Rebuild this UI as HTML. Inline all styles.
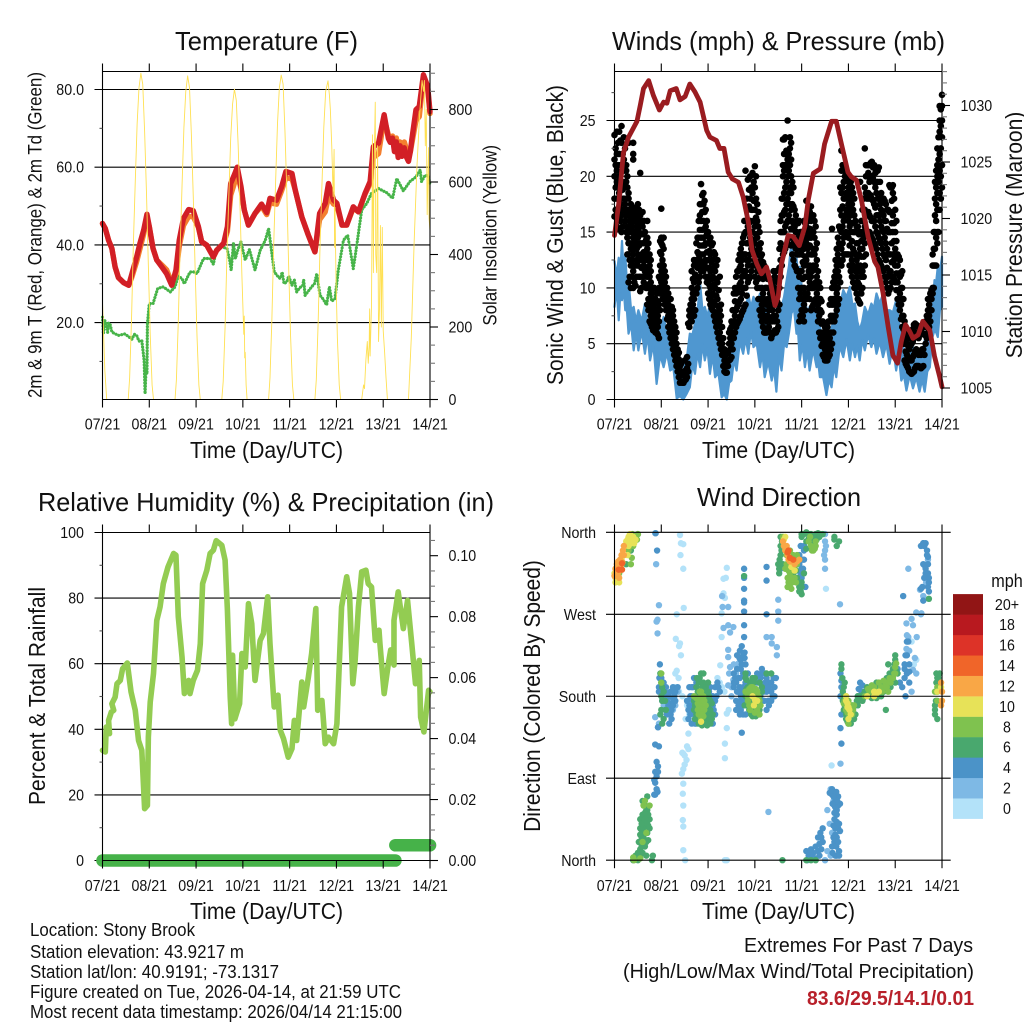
<!DOCTYPE html>
<html lang="en">
<head>
<meta charset="utf-8">
<title>Stony Brook Station Meteogram</title>
<style>
html,body{margin:0;padding:0;background:#fff;}
svg{display:block;}
text{font-family:"Liberation Sans",sans-serif;fill:#111;}
.title{font-size:26px;text-anchor:middle;}
.axis{font-size:23.5px;text-anchor:middle;}
.info{font-size:18px;}
.extreme{font-size:20.5px;text-anchor:end;}
</style>
</head>
<body>
<svg id="figure" xmlns="http://www.w3.org/2000/svg" width="1024" height="1024" viewBox="0 0 1024 1024">
<rect x="0" y="0" width="1024" height="1024" fill="#fff"/>

<g id="temp-chart">
<text class="title" x="266.5" y="50" textLength="183" lengthAdjust="spacingAndGlyphs">Temperature (F)</text>
<text style="font-size:19px;text-anchor:middle" transform="translate(41.7,235) rotate(-90)" textLength="326" lengthAdjust="spacingAndGlyphs">2m &amp; 9m T (Red, Orange) &amp; 2m Td (Green)</text>
<text style="font-size:19px;text-anchor:middle" transform="translate(496.5,235.3) rotate(-90)" textLength="180.7" lengthAdjust="spacingAndGlyphs">Solar Insolation (Yellow)</text>
<text class="axis" x="266.5" y="458" textLength="153" lengthAdjust="spacingAndGlyphs">Time (Day/UTC)</text>
</g>

<g id="wind-chart">
<text class="title" x="778.5" y="50" textLength="333" lengthAdjust="spacingAndGlyphs">Winds (mph) &amp; Pressure (mb)</text>
<text style="font-size:23.5px;text-anchor:middle" transform="translate(563,235) rotate(-90)" textLength="300" lengthAdjust="spacingAndGlyphs">Sonic Wind &amp; Gust (Blue, Black)</text>
<text style="font-size:23.5px;text-anchor:middle" transform="translate(1022,235) rotate(-90)" textLength="246.6" lengthAdjust="spacingAndGlyphs">Station Pressure (Maroon)</text>
<text class="axis" x="778.5" y="458" textLength="153" lengthAdjust="spacingAndGlyphs">Time (Day/UTC)</text>
</g>

<g id="rh-chart">
<text class="title" x="266" y="511" textLength="456" lengthAdjust="spacingAndGlyphs">Relative Humidity (%) &amp; Precipitation (in)</text>
<text style="font-size:23.5px;text-anchor:middle" transform="translate(45,696) rotate(-90)" textLength="218" lengthAdjust="spacingAndGlyphs">Percent &amp; Total Rainfall</text>
<text class="axis" x="266.5" y="919" textLength="153" lengthAdjust="spacingAndGlyphs">Time (Day/UTC)</text>
</g>

<g id="dir-chart">
<text class="title" x="779" y="506" textLength="164" lengthAdjust="spacingAndGlyphs">Wind Direction</text>
<text style="font-size:23.5px;text-anchor:middle" transform="translate(540,696) rotate(-90)" textLength="271.7" lengthAdjust="spacingAndGlyphs">Direction (Colored By Speed)</text>
<text class="axis" x="778.5" y="919" textLength="153" lengthAdjust="spacingAndGlyphs">Time (Day/UTC)</text>
<text style="font-size:18px;text-anchor:middle" x="1007" y="587" textLength="31.5" lengthAdjust="spacingAndGlyphs">mph</text>
<g id="dir-legend"></g>
</g>

<g>
<text class="info" x="30" y="936" textLength="165" lengthAdjust="spacingAndGlyphs">Location: Stony Brook</text>
<text class="info" x="30" y="958" textLength="214" lengthAdjust="spacingAndGlyphs">Station elevation: 43.9217 m</text>
<text class="info" x="30" y="978" textLength="249" lengthAdjust="spacingAndGlyphs">Station lat/lon: 40.9191; -73.1317</text>
<text class="info" x="30" y="998" textLength="371" lengthAdjust="spacingAndGlyphs">Figure created on Tue, 2026-04-14, at 21:59 UTC</text>
<text class="info" x="30" y="1018" textLength="372" lengthAdjust="spacingAndGlyphs">Most recent data timestamp: 2026/04/14 21:15:00</text>
</g>
<g>
<text class="extreme" x="973" y="952" textLength="229" lengthAdjust="spacingAndGlyphs">Extremes For Past 7 Days</text>
<text class="extreme" x="974" y="978" textLength="351" lengthAdjust="spacingAndGlyphs">(High/Low/Max Wind/Total Precipitation)</text>
<text class="extreme" style="font-weight:bold;fill:#b8202a" x="974" y="1005" textLength="167" lengthAdjust="spacingAndGlyphs">83.6/29.5/14.1/0.01</text>
</g>
</svg>

<script>
/* ---------- shared axis data ---------- */
const dayTicks = [0,1,2,3,4,5,6,7];
const dayLabels = ["07/21","08/21","09/21","10/21","11/21","12/21","13/21","14/21"];

/* ---------- temperature panel data ---------- */
const tempMajorTicks = [20,40,60,80];
const tempTickLabels = ["20.0","40.0","60.0","80.0"];
const tempMinorTicks = [10,30,50,70];
const solarMajorTicks = [0,200,400,600,800];
const solarTickLabels = ["0","200","400","600","800"];
const solarMinorTicks = [50,100,150,250,300,350,450,500,550,650,700,750,850,900];
const tempTimes = [0,.06,.13,.2,.27,.34,.45,.56,.63,.73,.8,.88,.95,1,1.08,1.16,1.27,1.37,1.48,1.57,1.64,1.73,1.84,1.94,2.05,2.12,2.23,2.37,2.44,2.59,2.67,2.74,2.83,2.88,2.96,3.03,3.12,3.26,3.4,3.51,3.58,3.72,3.83,3.92,4.05,4.12,4.26,4.4,4.54,4.64,4.76,4.83,4.94,5.01,5.12,5.22,5.36,5.47,5.61,5.72,5.79,5.9,6.02,6.11,6.15,6.2,6.24,6.28,6.32,6.36,6.4,6.45,6.5,6.54,6.58,6.61,6.7,6.77,6.86,6.95,7];
const temp2mValues = [45.5,44.2,41.2,39.1,34.3,31.6,30.3,29.6,32.6,36.9,40.4,43.8,47.9,44.7,39.1,36.1,34.3,32.6,29.6,33.5,41.2,46.8,49.1,48.8,44.7,40.8,39.9,36.9,38.6,40.4,44.7,55.8,58.4,60,55,49,45.1,48.1,50.5,48.3,52,51.5,55,58.9,58.4,54.1,47.2,42.5,38.2,48.1,50.7,55.8,51.5,50.7,45.1,45.1,49.8,48.5,53.2,56.3,65.3,66.2,73.5,67.4,66.4,67.5,64,66.5,62.5,65.5,62.8,65,62.5,61.5,64,67,74.8,75.6,83.8,80.8,74.3];
const temp9mValues = [45.5,44.2,41.2,39.1,34.3,31.6,30.3,29.6,31.8,35.7,39,42.8,47.2,44.7,39.1,36.1,34.8,33.6,30.2,32.5,39.6,45,47.3,47.3,44.5,40.8,39.9,36.9,38.6,40.4,43.5,52.8,56.3,58.2,54.5,49,45.1,48.1,50,47.8,50.8,50.5,54,57.3,57,54.1,47.2,42.5,38.2,46.5,48.5,52.5,50.5,50.2,45.1,45.1,49.5,48.5,53,55.8,62.5,63.5,72.5,68.3,67.5,68,65.5,67.5,64.5,66.5,65,66.5,64.5,63,64,66,72,73,83,80,73.8];
const dewTimes = [0,.02,.05,.08,.11,.13,.16,.2,.24,.34,.48,.63,.68,.73,.78,.84,.89,.91,.93,.95,.96,1,1.08,1.18,1.3,1.45,1.55,1.62,1.7,1.75,1.8,1.87,1.94,2.02,2.16,2.3,2.37,2.43,2.55,2.66,2.72,2.75,2.8,2.84,2.9,2.96,3.05,3.14,3.26,3.37,3.48,3.55,3.62,3.67,3.74,3.8,3.84,3.88,3.94,3.98,4.05,4.1,4.15,4.22,4.28,4.3,4.33,4.47,4.53,4.58,4.65,4.72,4.79,4.85,4.9,4.97,5.04,5.15,5.24,5.29,5.36,5.43,5.54,5.65,5.75,5.9,6.08,6.2,6.29,6.43,6.57,6.7,6.79,6.82,6.9,6.97,7];
const dewValues = [21.4,17.1,20.5,19.7,17.5,19.9,19.7,17.6,17.3,16.7,17.1,15.7,17,16.7,15.2,15.4,10.3,1.7,8,6.8,19.7,24.9,24.9,28.8,29.2,27.9,29.2,32,31.3,30,31.3,33,33.1,32.6,36.5,36.5,35,38.6,39.5,39.1,36,33.5,40.4,36.5,39,40.8,36.1,38.8,33.5,38.6,41.2,44.2,37.8,33.1,32,31.3,33,30,30.5,32,29.6,31,27.9,29,29.6,31,27,29.2,30,32.6,27,26,24.5,29.2,25.5,26.2,33.5,41.2,42.5,39.1,33.9,39.5,49,50.7,53.3,54.5,53.4,52,57.1,53.9,56.3,57.5,59.3,56.3,58,57.6,55.4];
const solarTimes = [0,.05,.09,.55,.58,.62,.66,.7,.74,.78,.82,.86,.9,.94,.98,1.02,1.06,1.09,1.55,1.58,1.62,1.66,1.7,1.74,1.78,1.82,1.86,1.9,1.94,1.98,2.02,2.06,2.09,2.55,2.58,2.62,2.66,2.7,2.74,2.78,2.82,2.86,2.9,2.94,2.98,3.02,3.03,3.04,3.05,3.07,3.09,3.55,3.58,3.62,3.66,3.7,3.74,3.78,3.82,3.86,3.9,3.94,3.98,4.02,4.06,4.09,4.54,4.57,4.61,4.65,4.69,4.73,4.77,4.82,4.85,4.87,4.9,4.93,4.95,4.96,4.97,4.99,5.02,5.06,5.09,5.54,5.58,5.6,5.63,5.66,5.68,5.7,5.71,5.72,5.75,5.77,5.79,5.8,5.83,5.84,5.86,5.88,5.9,5.92,5.94,5.96,5.98,6,6.03,6.06,6.09,6.54,6.6,6.66,6.72,6.78,6.83,6.86,6.88,6.9,6.92,6.94,6.96,6.97,6.98,7];
const solarValues = [270,80,0,0,60,220,430,600,760,860,900,870,740,570,370,180,40,0,0,55,215,420,590,750,850,893,860,730,560,360,175,40,0,0,50,200,400,560,720,815,856,825,700,530,340,180,230,115,130,40,0,0,60,220,430,600,760,860,895,870,740,570,360,175,40,0,0,55,215,425,590,750,850,879,840,800,700,560,690,420,530,340,170,40,0,0,40,30,110,160,100,150,250,120,260,730,350,600,820,400,350,700,160,250,480,200,475,190,130,60,0,0,170,430,640,790,880,850,880,700,800,510,640,695,500,465];

/* ---------- wind panel data ---------- */
const windMajorTicks = [0,5,10,15,20,25];
const windTickLabels = ["0","5","10","15","20","25"];
const windMinorTicks = [2.5,7.5,12.5,17.5,22.5,27.5];
const pressureMajorTicks = [1005,1010,1015,1020,1025,1030];
const pressureTickLabels = ["1005","1010","1015","1020","1025","1030"];
const pressureMinorTicks = [1006,1007,1008,1009,1011,1012,1013,1014,1016,1017,1018,1019,1021,1022,1023,1024,1026,1027,1028,1029,1031,1032,1033];
const windTimes = [0,.045,.09,.125,.16,.195,.23,.265,.3,.355,.41,.46,.51,.58,.65,.705,.76,.83,.9,.975,1.05,1.12,1.19,1.26,1.33,1.4,1.47,1.54,1.61,1.665,1.72,1.775,1.83,1.88,1.93,1.985,2.04,2.095,2.15,2.22,2.29,2.345,2.4,2.45,2.5,2.555,2.61,2.68,2.75,2.805,2.86,2.915,2.97,3.04,3.11,3.16,3.21,3.285,3.36,3.41,3.46,3.515,3.57,3.625,3.68,3.73,3.78,3.835,3.89,3.925,3.96,4.015,4.07,4.12,4.17,4.245,4.32,4.355,4.39,4.46,4.53,4.585,4.64,4.69,4.74,4.815,4.89,4.96,5.03,5.085,5.14,5.19,5.24,5.295,5.35,5.42,5.49,5.545,5.6,5.67,5.74,5.81,5.88,5.95,6.02,6.075,6.13,6.185,6.24,6.31,6.38,6.45,6.52,6.575,6.63,6.685,6.74,6.79,6.84,6.875,6.91,6.955,7];
const windHighValues = [12.4,11,12.7,11.5,14.2,11.5,13,10.5,10.6,8,8.3,7,8,7,8.6,6.8,7.4,6,5.9,6.2,7.4,6,6.2,4.8,3.5,2.8,2.6,3.5,5.9,5.8,6.8,8,10.4,8,8.3,7.4,8.6,7.2,7.7,6,5.3,3.8,2.6,3,3.8,5.5,6.8,6.5,7.4,8,9.5,8.2,9.2,8.5,9.5,8,8.6,7,5.9,5.2,5.9,7,8.3,9.2,10.7,12,14,12.2,12.8,11,11.9,9.5,8.9,7.8,8.3,7.5,8.9,7,6.5,5.2,4.7,5.2,6.5,7,8.6,8.4,9.8,9.2,10.1,8.5,8.6,7,6.2,7,8.3,7.6,8.6,8.2,9.5,8.6,9.5,8,8,7.8,8.9,7,5.6,4.5,3.5,4,4.7,3.8,4.1,4.2,5.3,5,5.9,8,10.7,10.5,11.9,11.5,12.8];
const windLowValues = [8.3,10,7.1,9.5,8.9,10,8,8,5.9,6.8,4.4,6,4.4,6.2,4.1,5.8,3.5,5,1.4,4,2.9,4.2,2.6,2.8,.1,.3,0,.5,1.1,3.2,2.3,4.2,2.9,5,3.5,4.6,2.3,4,2,2.4,.2,.5,0,1.5,1.7,3.6,2.6,5.2,4.1,5.5,4.1,6.2,4.7,5,2.9,4.2,2,3.4,1.7,2.8,.7,4,2.6,5,4.7,6,7.7,8.2,5.9,6,3.5,5,2.9,4.4,2.6,4.5,2.9,3.3,2,2,.4,1.8,1.1,3,2,4.8,3.8,5.4,3.5,5,3.8,4.8,3.5,5.4,4.4,5.8,4.7,5.5,4.1,5.2,3.8,5,3.2,4.8,2.6,4,1.7,2.2,.8,2.2,1,2,.7,1.8,.7,2.5,2.9,5.5,6.2,6,5.6,8,8.3];
const pressureTimes = [0,.09,.19,.3,.48,.55,.62,.73,.83,.96,1.05,1.12,1.19,1.32,1.4,1.51,1.61,1.72,1.83,1.97,2.04,2.18,2.25,2.34,2.43,2.52,2.65,2.75,2.86,2.94,3.04,3.14,3.25,3.32,3.43,3.5,3.57,3.71,3.82,3.95,4.07,4.14,4.25,4.4,4.49,4.64,4.74,4.85,4.99,5.06,5.17,5.28,5.42,5.56,5.63,5.74,5.85,5.95,6.05,6.13,6.22,6.31,6.38,6.49,6.59,6.74,6.84,6.95,7];
const pressureValues = [1018.5,1021.3,1025.8,1027.2,1028.6,1030,1031.5,1032.2,1030.9,1029.6,1030.3,1030.2,1031.3,1031.5,1030.5,1030.8,1031.9,1031.2,1030.3,1027.8,1027.2,1026.9,1026.2,1026.2,1024.1,1023.5,1023.2,1021.9,1019.7,1017.2,1016,1015.1,1015.7,1014.6,1012.3,1013.1,1016,1018.5,1018.4,1017.6,1019.3,1021.6,1024,1024.4,1026.6,1028.6,1028.6,1026.6,1024.1,1023.7,1023.4,1021.6,1018.4,1016.2,1015.7,1013.4,1010.4,1007.9,1007.2,1009.1,1010.6,1010,1009.4,1009.7,1010.9,1010.1,1007.8,1006,1005.1];
const gustTimes = [0,.05,.1,.15,.2,.25,.3,.35,.4,.45,.5,.55,.6,.65,.7,.75,.8,.85,.9,.95,1,1.05,1.1,1.15,1.2,1.25,1.3,1.35,1.4,1.45,1.5,1.55,1.6,1.65,1.7,1.75,1.8,1.85,1.9,1.95,2,2.05,2.1,2.15,2.2,2.25,2.3,2.35,2.4,2.45,2.5,2.55,2.6,2.65,2.7,2.75,2.8,2.85,2.9,2.95,3,3.05,3.1,3.15,3.2,3.25,3.3,3.35,3.4,3.45,3.5,3.55,3.6,3.65,3.7,3.75,3.8,3.85,3.9,3.95,4,4.05,4.1,4.15,4.2,4.25,4.3,4.35,4.4,4.45,4.5,4.55,4.6,4.65,4.7,4.75,4.8,4.85,4.9,4.95,5,5.05,5.1,5.15,5.2,5.25,5.3,5.35,5.4,5.45,5.5,5.55,5.6,5.65,5.7,5.75,5.8,5.85,5.9,5.95,6,6.05,6.1,6.15,6.2,6.25,6.3,6.35,6.4,6.45,6.5,6.55,6.6,6.65,6.7,6.75,6.8,6.85,6.9,6.95,7];
const gustColumns = [
[16.4,18,20,21.5,23.7],[15.5,18,19.5,20.5,22,24],[15.3,17,18.5,20,22,24],[15,16.5,18,19.5,21,23,24.5],[17,18,19,20.5,21.5,23.5],[15,16.5,18,19.5,20.5,21],[10.5,13,14,15.5,16.5,18,18.5,23],[10,12,13.5,15,16.5,17.5],[10,11.5,13,14.5,16,17.2,22,21.5,23],[10.2,12,14,15,16,17],
[12,13,14.5,15.5,16.5,17.5],[9.7,11,12.5,14,15.5,16.5,20.3],[11,12.5,14,15.5,16.8],[11.5,12.5,14,15],[8.5,10,11,12.5,13.5,14.5,16],[7,8,9,10,11,12,13],[6.5,7.5,8.5,9.5],[6.3,7.3,8.5,10],[6,7,8,9.5],[5.5,7,8.5,10,11],
[9.5,10.5,11.5,12,13,14,14.5,17.1],[9.5,10.5,12,13.5,14.5],[8,9,10,11],[6.5,7.5,8.5,9.5],[5.5,6.5,7.5,9],[4.5,5.5,6.5,7.5,8],[3.5,4.5,5.5,6.5],[2.5,3.2,4,4.5],[1.5,2.3,3],[1.5,2.2],
[1.7,2.3,3.5],[2,2.8,3.8],[6.5,7.5,8],[7,8,9,10,11.5],[7.5,9,10.5,12,12.5],[9.5,11,12.5,14],[10.5,12,13,14.5,16],[11.5,13,14.5,16,17.5,19.3],[11.5,13,14.5,16,17.5,18.5],[11,12.5,14,15.5,17],
[9.5,11,12.5,14,15],[8.5,10,11.5,13,14.5],[8,9.5,11,12.5,14],[7,8.5,10,11.5,13],[6,7.5,9,10.5,12.5],[5,6,7,8,11],[4,5,6.5],[2.5,3.5,4.5],[2.4,3.5],[3.5,5,6],
[3.8,5,6.5,7],[5.5,7,8,9.5],[6.5,8,9.5,11],[7,8.5,10,11.5,12.5],[7.5,9,10.5,12,13.5],[8,10,11.5,13,14.5],[8.5,10,11.5,13,15,20.5],[10.5,12,14,15.5,17,19.7],[11,13,14.5,16,18,20],[12,13.5,15,17,18.5,20.3],
[11,12.5,14,15.5,17,19,20.9],[10,11.5,13,14.5,16,17.5],[8,10,12,13.5,15],[7,8.5,10,11.5,13],[6,7.5,9,11,12],[6,7,8.5,10,11.5],[6.5,8,9,10],[5.5,7,8.5],[6,7.5,9,10.5,11.5],[6,7.5,9.5,11.5],
[6.5,8,10.5],[11,12.5,14,15,16],[13,15,16.5,18,20,21,23.3],[13.5,15.5,17,19,21,22,23.5],[14,16,18,20,21.5,25],[14.5,16,17.5,19,21,22.5,23.5],[13,14.5,16,17.5,19.5],[12,14,15.5,17],[11.5,13,15,16],[7,9,11,13,14.5,16],
[8,10,11.5,13,15],[7,8.5,10,12,13.5,16],[9,11,12.5,14,15.5,17.8],[10,11.5,13,14.5,16,17.2],[8,10,11,13,14.5,16,17.3],[8.5,10,12,13.5,15,16.5],[9,10.5,12,13.5,15.5],[7,8.5,10,11.5],[5.5,6,7,8,9,10],[4,5,6,7],
[3.5,4.5,5.5,6.5],[3.5,4.5,5.5,6.5],[4,5.5,7,8.5],[5,7,8.5,10,15.3],[7,8.5,10,11],[8,9.5,11,12,13.5],[9,11,12.5,14,15.5],[12,13.5,15,16.5,18.5,20.5,22.3],[13,14.5,16,18,19.5,20.5],[13,15,17,18.5,20],
[13,14.5,16,17.5,19,19.5],[11.5,13,15,16.5,18,19.5],[10.5,12,13.5,15,17,18.5],[10,11.5,13,15,16],[9,10.5,12,14,15.5],[8.6,10,12,13.5,15,19.5],[10,11.5,13.5,15,17],[12,14,15.5,17,19,22.5],[15,16.5,18,20,21],[15,16.5,18,19.5,21],
[14.5,16,18,20,21.3],[14,16,17.5,19.5,21],[13.5,15,16.5,18.5,20.5],[12.5,14.5,16.5,18,20.8],[12,14,15.5,17,18.5],[11.5,13,15,16.5,18],[10.5,12.5,14,16,17.5],[9.5,11,13,15,17],[10,11.5,13,15,16.8,19],[11,13,15,16.5,18.5,19.2],
[10.5,12,13.5,15,17],[9,10.5,12,13],[8,9.5,11,12.5],[6.5,7.5,9,10,11.5],[3.5,5,6,7],[3,4,5,6],[2.5,3.5,4.5,5.5],[2.3,3.5,5,6],[2.5,4,5.5,6.7],[3,4.5,6,6.7],
[3,4,5.5,6.5],[2.8,4,6],[3,4.5,6.5],[5,6.5,7],[6,7,8,9],[7,8,9.5],[9.5,10,12,13],[12,13.5,15,16.5,18,19.5],[14,15,17,18.5,20,21,22.5],[17,18.5,20.5,22,24,25,26.3],[19,21,23.5,25,26.3,27.3]
];
const gustTimesB = [.025,.075,.125,.175,.225,.275,.325,.375,.425,.475,.525,.575,.625,.675,.725,.775,.825,.875,.925,.975,1.025,1.075,1.125,1.175,1.225,1.275,1.325,1.375,1.425,1.475,1.525,1.575,1.625,1.675,1.725,1.775,1.825,1.875,1.925,1.975,2.025,2.075,2.125,2.175,2.225,2.275,2.325,2.375,2.425,2.475,2.525,2.575,2.625,2.675,2.725,2.775,2.825,2.875,2.925,2.975,3.025,3.075,3.125,3.175,3.225,3.275,3.325,3.375,3.425,3.475,3.525,3.575,3.625,3.675,3.725,3.775,3.825,3.875,3.925,3.975,4.025,4.075,4.125,4.175,4.225,4.275,4.325,4.375,4.425,4.475,4.525,4.575,4.625,4.675,4.725,4.775,4.825,4.875,4.925,4.975,5.025,5.075,5.125,5.175,5.225,5.275,5.325,5.375,5.425,5.475,5.525,5.575,5.625,5.675,5.725,5.775,5.825,5.875,5.925,5.975,6.025,6.075,6.125,6.175,6.225,6.275,6.325,6.375,6.425,6.475,6.525,6.575,6.625,6.675,6.725,6.775,6.825,6.875,6.925,6.975];
const gustColumnsB = [
[17,19,21,22.5],[16.5,19,21,23],[16,17.5,19,21,23.2],[15.5,17,18.8,20.5,22],[16,17.5,19.5,22.5],[13,14.5,15.5,17,19,20],[11,12.5,14,15,16,17],[11,12.5,14,15.5,17],[10.5,12,13.5,15,16.5],[11,12.5,13.5,14.5,15.5,16.5],
[11,12.5,13.8,15,16,17],[10,11.8,13,14.8,16],[10.5,12,13.2,14.8,16],[10,11.2,12.8,14.3],[8,9,10.3,11.8,13,14],[6.8,7.5,8.5,9.5,10.5,11.5,12.5],[6.2,7,8,9,10],[6,6.8,7.8,9],[5.8,6.5,7.5,8.8,9.8],[8,9.5,10.8,12,13.2,14.2],
[9,10,11,12.5,13.8],[8.5,9.5,10.5,11.5],[7.2,8.2,9,10],[6,7,8,9],[5,6,7,8.3],[4,5,6,7],[3,4,5,6],[2,2.8,3.6,4.2],[1.6,2.5,3.2],[1.5,2.5],
[1.8,2.6],[2.5,3.2,6.8],[7,8.5],[7.5,8.5,9.5,10.8],[8,9.8,11.2,12.2],[10,11.8,13.2,14.5],[11,12.5,13.8,15.2,16.5,17.5],[12,13.8,15.2,16.8,18.3],[12.2,13.8,15.3,16.8,17.8],[10.5,11.8,13.2,14.8,16],
[9,10.3,11.8,13.3,14.5],[8.2,9.3,10.8,12.3,13.8],[7.5,8.8,10.3,11.8,13.2],[6.5,7.8,9.3,10.8,12],[5.5,6.8,8.3,9.8],[4.5,5.5,6.5,7.5,8.5],[3,4.5,5.5],[2.4,3,4],[3,4.2],[3.6,4.5,5.5,6.3],
[4.5,5.8,6.8,8],[6,7.5,8.8,10],[6.8,8.3,9.8,11.5],[7.2,8.8,10.3,11.8,13],[7.8,9.5,11,12.5,14],[8.3,10,11.5,13,14.8,16],[9.3,11,12.5,14,16,18],[10.8,12.5,14,15.8,17.3,18.8],[11.5,13.5,15,17,19],[12,13.2,14.3,16,17.8,19.5],
[10.5,12,13.3,14.8,16.3,18,20],[9,10.8,12.3,13.8,15.5,16.8],[7.5,9,11,12.8,14],[6.5,8,9.5,10.8,12.3],[6,7.2,8.8,10,11],[6.2,7.5,9,10.8],[6,7.2,8.5,9.5],[5.8,7,8,9.5,10.5],[6.2,7,8.5,10,11],[6.2,7,8.8,10.8],
[8.5,10,11.8,13.5],[12,13.5,15,16.5,18],[13.2,15,16.8,18.5,20.5,22,23.3],[13.8,15.8,17.5,19.5,21,22.3],[14.5,16.5,18.5,20.5,22],[13.8,15.3,17,18.5,20,21.5,23],[12.5,14,15.8,17.3,19],[11.8,13.5,15,16.5],[10,11.5,13,14.5,15.8],[7.5,9.5,11.5,13.5,15],
[7.5,9,10.8,12.3,14],[8,9.5,11,12.8,14.5,15.8],[9.5,11,12,13.5,15,16.5],[9,10.5,12,13.8,15.3,16.8],[8.3,10,11.5,13,14.8,16.2],[8.8,10.3,11.8,13,14.5,16],[8,9.5,11,12.5,14],[6,7.5,9,10.5],[4.8,5.8,6.8,7.8,8.8],[3.8,4.8,5.8,6.8],
[3.5,4.2,5,6],[3.8,5,6,7],[4.5,6,7.5,9],[6,7.5,9,10.5],[7.5,9,10.5,11.5,12.5],[8.5,10,11.5,13,14.5],[10.5,12.2,13.8,15.2,17,19],[12.5,14,15.5,17.3,19,21],[13,14.8,16.5,18,20],[13,14.8,16.5,18,19.8],
[12,13.8,15.5,17,18.5],[11,12.5,14.2,15.8,17.5,19],[10,11.8,13.2,15,16.5,18],[9.5,11,12.5,14,15.5],[8.8,10.3,11.5,13,14.8],[9.5,11,12.8,14.2,16],[11,12.8,14.5,16,18],[13,15,16.8,18.5,20,21],[15,16.8,18.5,20.3,21],[14.8,16.3,18.3,20,21.2],
[14.3,16,17.8,19.8,20.8],[13.8,15.5,17.2,19,20.3],[13,14.8,16.5,18,19.5,20.5],[12.3,14.2,16,17.5,19.5],[11.8,13.5,15.2,16.8,18],[11,12.8,14.5,16,17.8],[10,11.8,13.5,15.3,17],[9.8,11.3,13,15,16.8,19.2],[10.5,12.3,14,15.8,17.8,19],[10.8,12.5,14.2,15.8,18],
[9.8,11.3,12.8,14.2,16],[8.5,9.8,11.3,12.8],[7.2,8.5,10,11.2],[5,6.3,7.5,9],[3.2,4.3,5.5,6.5],[2.8,3.8,4.8,5.8],[2.4,3.5,4.8,5.8],[2.4,3.8,5.2,6.3],[2.8,4.3,5.8,6.8],[3,4.2,5.7,6.6],
[2.9,4.2,5.8,6.3],[2.9,4.5,6],[4,5.8,6.8],[5.5,6.8,7.5],[6.5,7.5,8.5],[8,9,9.8],[10,12,13.5,15],[12,14.5,16,17.5,19,20.5],[15,17,19.5,21.5,23.5],[18,20,22.5,24.5,26]
];

/* ---------- humidity panel data ---------- */
const rhMajorTicks = [0,20,40,60,80,100];
const rhTickLabels = ["0","20","40","60","80","100"];
const rhMinorTicks = [10,30,50,70,90];
const rainMajorTicks = [0,.02,.04,.06,.08,.1];
const rainTickLabels = ["0.00","0.02","0.04","0.06","0.08","0.10"];
const rainMinorTicks = [.005,.01,.015,.025,.03,.035,.045,.05,.055,.065,.07,.075,.085,.09,.095,.105];
const rhTimes = [0,.06,.08,.15,.13,.19,.24,.2,.27,.31,.38,.43,.53,.61,.7,.77,.84,.9,.96,.98,1.02,1.09,1.16,1.23,1.3,1.4,1.52,1.57,1.62,1.7,1.75,1.84,1.87,1.94,2.03,2.09,2.14,2.23,2.3,2.37,2.43,2.55,2.62,2.67,2.73,2.76,2.78,2.83,2.93,2.98,3.05,3.12,3.19,3.26,3.37,3.44,3.53,3.58,3.67,3.75,3.8,3.87,3.97,4.05,4.1,4.15,4.26,4.3,4.4,4.47,4.56,4.6,4.69,4.76,4.83,4.94,5.01,5.11,5.22,5.28,5.35,5.4,5.47,5.54,5.63,5.68,5.75,5.83,5.91,5.93,6.02,6.11,6.16,6.23,6.23,6.32,6.43,6.52,6.61,6.69,6.77,6.8,6.87,6.97,7];
const rhValues = [33.6,33.1,40.7,38.7,42.7,45.3,45.8,47.8,49.8,53.9,54.9,58.5,60.2,51.4,45.8,36.6,33.6,15.8,16.8,37.6,48.3,57,73.2,77.3,84.4,89.5,93.6,93.1,74.3,62,50.9,54.9,50.9,54.9,58,66.1,84.4,88.5,93.6,94.6,97.5,96.1,91.6,76.3,49.8,41.7,62.6,43.2,47.8,63.1,59,78.3,72.2,54.9,67.1,69.2,80.4,66.1,46.8,50.4,39.7,37.1,31.5,34.1,42.7,36.6,54.4,46.8,55.9,63.1,76.8,45.8,48.8,35.6,37.6,35.6,41.7,77.3,86.5,81.4,53.9,61,77.3,88,88.5,84.4,83.4,67.1,70.2,66.1,50.9,60,64.2,59.6,73.2,81.9,70.7,79.3,66.1,53.9,61,43.7,39.2,51.9,51.4];
const rainTimes = [0,1,2,3,4,5,6,6.26,6.26,6.5,7];
const rainValues = [0,0,0,0,0,0,0,0,.005,.005,.005];

/* ---------- wind direction panel data ---------- */
const directionTicks = [0,90,180,270,360];
const directionLabels = ["North","East","South","West","North"];
const speedLegendLabels = ["0","2","4","6","8","10","12","14","16","18","20+"];
const dirTimes0 = [1.4,1.42,1.47,1.41,1.47,1.48,1.33,1.31,1.4,1.38,1.3,1.37,1.33,1.3,1.38,1.45,1.55,1.6,1.58,1.58,1.47,1.54,1.47,1.44,1.5,1.47,1.46,1.47,1.46,1.47,1.47,1.51,2.4,2.33,2.38,2.33,2.29,2.36,2.29,2.26,2.2,2.25,2.3,2.35,2.4,2.44,2.4,2.36,2.36,2.36,2.4,4.52,4.64,4.5,6.35,6.45,6.4,1.42,1.6,1.52,1.5,1.55,1.45];
const dirDegrees0 = [357,348,347,335,320,277,270,243,238,235,205,200,208,190,185,180,170,160,139,122,117,110,100,95,105,84,73,60,44,37,11,0,321,309,310,293,271,288,245,214,200,195,190,185,161,165,145,128,112,0,0,298,104,0,240,220,215,225,175,155,115,125,118,90];
const dirTimes2 = [.87,.89,.95,.92,.92,.87,.9,2.3,2.31,2.33,2.43,2.43,2.47,2.43,2.54,2.43,2.47,2.54,2.43,2.5,2.55,2.65,2.6,2.57,2.45,2.5,3.5,3.5,3.5,3.25,3.36,3.47,3.47,3.36,3.29,4.5,4.5,4.5,4.5,4.5,4.52,4.48,4.82,4.83,6.28,6.24,6.24,6.25,6.35,6.45,6.56,6.46,6.38,6.28,6.53,6.63,6.63,6.66,6.38,6.45,6.35,6.42,6.3,4.62,4.68,4.55,4.6,4.65,4.7,4.55,4.62,4.5,.95,1.05,1.3,1.35,1.25,1.15,1.2,6.55,6.6,6.7];
const dirDegrees2 = [359,325,280,264,249,157,262,290,278,255,278,258,250,223,256,231,212,198,192,190,215,216,205,195,205,180,286,273,263,245,245,234,225,238,53,358,350,340,330,320,345,335,281,106,320,260,232,247,265,272,271,245,258,245,297,346,323,305,209,205,185,222,230,78,65,55,40,30,70,10,5,0,150,170,170,185,165,180,175,270,290,330];
const dirTimes4 = [.88,.91,.97,.96,.93,.95,1,1.02,1.05,1.08,1.1,1.15,1.2,1.25,1.2,1.22,1.3,1.17,.93,.87,.95,.9,.93,.87,.93,.85,.87,.9,.85,.87,.92,.9,1.6,1.68,1.7,1.65,1.6,1.68,1.72,1.58,1.65,1.72,1.8,2,2.05,2.1,2.15,2.2,2.1,2.15,2.05,1.95,2.1,2.08,2.25,2.6,2.65,2.55,2.65,2.7,2.6,2.75,2.7,2.8,2.8,2.75,2.7,2.75,2.8,2.68,2.72,2.55,2.78,2.7,3.1,3.2,3.25,3.3,3.35,3.35,3.42,3.45,3.42,3.3,3.15,3.3,3.18,3.28,2.77,2.77,2.77,2.77,2.77,2.77,2.77,2.77,2.75,3.25,3.25,3.25,2.72,4.1,4.15,4.2,4.25,4.3,4.35,4.35,4.4,4.45,4.45,4.65,4.7,4.75,4.8,4.75,4.72,4.75,4.78,4.8,4.7,4.72,4.78,4.75,4.65,4.65,4.7,4.82,4.6,4.72,4.08,4,4,3.95,3.85,4.05,4.05,3.55,4.83,4.83,4.85,4.85,4.83,4.85,4.85,5.3,5.25,5.35,5.2,6,6.1,6.2,6.25,6.25,6.2,6.17,6.3,6.28,6.55,6.6,6.65,6.7,6.7,6.65,6.7,6.72,6.6,6.55,6.6,6.72,6.65];
const dirDegrees4 = [359,340,215,200,146,185,190,175,178,165,180,170,172,178,160,155,185,150,146,127,125,108,103,97,97,88,85,92,72,72,75,78,190,190,200,180,170,165,160,155,150,150,165,175,180,180,190,195,170,160,155,155,150,165,185,195,200,190,185,180,175,170,165,160,195,205,220,225,215,230,235,195,222,210,195,190,200,175,185,195,190,200,180,195,205,170,185,175,320,310,298,285,283,273,258,245,160,322,307,270,140,10,5,12,8,15,10,25,30,20,35,15,20,25,10,5,35,50,60,40,45,65,70,55,72,78,60,62,74,5,300,310,320,335,325,340,345,320,205,180,190,160,145,128,197,192,195,185,180,205,195,210,225,240,215,290,207,240,345,348,348,333,325,315,300,295,325,298,285,310,320];
const dirTimes6 = [.4,.45,.5,.55,.55,.58,.6,.55,.55,.6,.65,.7,.75,.7,.65,.6,.62,.68,.8,.82,.7,.65,.58,.72,.68,1,.98,1.02,1.05,1.08,1.02,1,.98,1.02,1.05,1.1,1,1.7,1.75,1.8,1.85,1.9,1.95,2,2.05,2.1,2,1.95,1.9,1.85,1.75,1.8,1.9,2,1.75,1.85,1.9,1.8,1.9,2,1.95,1.85,1.95,1.7,1.85,1.8,2.05,2.8,2.85,2.9,2.8,2.9,2.85,2.95,3,3.05,2.95,3.1,3.15,3.1,2.95,3.25,3.35,2.78,3,3.1,3.55,3.55,3.6,3.52,3.55,3.7,3.75,3.8,3.95,3.98,4,4.05,4,4.2,4.15,4.2,4.3,4.35,4.4,4.25,4,4.05,4.1,4.7,4.8,4.75,4.7,4.1,4.1,.25,.35,.4,.5,4.85,4.85,4.88,4.9,4.95,5.05,5.1,5.15,5.2,5,5.18,4.9,4.92,5.25,5.3,5.35,5.45,5.55,5.65,5.75,5.85,5.9,5.95,6,6,5.85,6,5.8,5.4,5.6,5.7,5.95,6.05,6.72,6.9,6.85,6.85,6.9,6.92,6.95,6.9,6.88,3.59,4.1,4.2,4.3,2.77];
const dirDegrees6 = [0,5,0,3,12,25,35,45,35,50,40,30,45,55,60,65,42,48,0,5,70,15,15,22,5,195,205,190,185,175,175,165,160,150,155,165,180,175,170,175,180,185,175,170,165,160,155,150,155,160,160,150,160,165,190,205,205,195,195,195,165,170,180,165,153,165,175,205,190,195,180,180,170,170,165,160,158,180,190,195,200,205,205,170,200,165,345,335,325,315,355,340,325,320,300,295,305,315,292,345,358,358,358,359,358,355,358,358,360,352,350,345,355,350,342,325,340,350,358,215,210,175,165,155,155,160,170,180,150,175,190,195,180,175,185,180,180,190,185,195,190,200,195,220,215,225,165,190,195,180,210,205,287,200,170,160,155,200,195,185,205,0,0,0,0,312];
const dirTimes8 = [.65,.62,.68,.55,.42,.6,.75,.4,1,1,.33,.45,.5,.35,.4,.35,.37,.3,.1,.2,1.8,1.85,1.9,1.85,1.95,1.85,1.8,1.9,1.8,1.85,1.85,1.7,1.9,2.8,2.85,2.9,2.95,3,3,3.05,3.1,2.9,2.85,3.1,3.05,3.65,3.7,3.75,3.8,3.85,3.9,3.85,3.65,3.75,3.9,3.85,3.6,3.75,4.15,4.2,4.25,4.3,4.3,4.95,5,5.05,5,5.1,5.02,4.95,4.9,5.35,5.45,5.55,5.6,5.75,5.8,5.9,5.85,5.7,6,6,6.02,5.95,6.85,6.9,6.95,6.9];
const dirDegrees8 = [65,60,30,2,0,20,60,3,205,195,355,355,358,345,345,325,332,340,315,335,175,175,170,165,170,180,170,165,160,155,185,180,158,185,180,185,190,180,170,165,175,165,175,160,185,320,310,315,305,310,325,330,345,340,335,320,355,300,350,345,340,350,345,180,175,170,165,165,160,165,172,180,185,190,185,190,195,195,185,190,205,212,216,200,185,175,190,190];
const dirTimes10 = [.02,.05,.1,.1,.15,.25,.3,.3,.35,.45,.28,0,.22,1.85,3.05,2.95,2.98,3.65,3.75,3.85,4.95,4.98,5.05,5,4.98,5.55,5.4,5.65,5.55,6.9,6.98];
const dirDegrees10 = [310,308,305,320,330,350,355,345,348,352,335,315,345,152,175,180,170,355,330,318,180,172,160,155,168,180,180,185,185,185,190];
const dirTimes12 = [0,.02,.05,.1,.1,.07,.13,.15,.2,.2,.17,3.6,3.65,3.7,3.75,3.85,3.95,3.68,6.98,7,7,6.98];
const dirDegrees12 = [312,320,325,318,310,315,322,335,345,335,327,350,340,335,328,325,330,345,195,185,175,170];
const dirTimes14 = [.16,.16,.09,3.7,3.72,3.82,3.75];
const dirDegrees14 = [319,326,319,338,340,330,332];
/* additional samples in the dense clusters */
const dirMoreTimes4 = [.95,1,1.05,1.1,1.12,1.15,1.2,1.25,1.22,1.18,1.25,1.12,1.08,1.3,1.35,1.28,1.62,1.65,1.7,1.75,1.75,1.8,1.62,1.58,1.55,1.68,2,2.05,2.1,2.15,2.05,2,1.98,2.12,2.18,2.02,2.22,2.58,2.62,2.55,2.68,2.62,2.68,2.72,2.75,2.65,2.7,2.78,2.6,2.68,2.82,2.72,2.78,2.67,2.62,2.85,3.05,3.12,3.15,3.22,3.25,3.2,3.12,3.3,3.38,3.4,3.35,3.25,3.15,3.22,3.05,4.12,4.18,4.22,4.28,4.38,4.42,4.42,4.38,4.66,4.68,4.72,4.74,4.78,4.75,4.72,4.76,4.66,4.68,4.74,4.7,4.78,4.82,4.8,4.68,3.95,4.02,4,4.05,3.98,4.03,3.98,6.62,6.68,6.7,6.72,6.62,6.58,6.68,6.6,6.2,6.25,6.3,6.3,6.22,6.05,6.15,6.22,5.32,5.28,5.22];
const dirMoreDegrees4 = [190,200,195,190,175,180,185,190,165,160,170,160,185,175,190,180,180,190,170,150,195,155,160,165,175,175,160,170,175,175,190,150,165,165,180,185,190,200,210,205,190,185,200,185,190,170,175,175,165,160,170,215,228,222,225,205,195,200,210,195,185,175,180,190,180,200,175,165,175,205,205,0,8,3,2,5,12,25,18,8,25,28,15,20,42,58,65,62,70,75,52,35,32,5,38,325,330,300,330,315,320,345,345,340,315,305,310,300,335,348,200,205,195,215,225,210,190,180,178,185,188];
const dirMoreTimes6 = [.5,.52,.58,.62,.65,.68,.72,.6,.55,.62,.68,.72,.58,.65,.7,.75,.65,.62,.68,.6,1.72,1.78,1.82,1.88,1.92,1.98,2.02,1.92,1.87,1.78,1.72,1.78,1.88,1.95,2.02,2.08,2.05,1.98,2,2.08,1.82,1.76,2.82,2.88,2.92,2.98,3.02,3.08,3.15,3.12,2.98,2.92,2.88,3.02,2.82,2.8,3.53,3.57,3.5,3.52,3.58,3.75,3.82,3.88,3.92,3.95,4,3.9,4,4.15,4.22,4.28,4.32,4.38,4.45,4.87,4.88,4.92,4.95,5,5.05,5.12,5.08,4.98,5.15,4.9,4.95,5.2,5.22,5.28,5.32,5.4,5.48,5.52,5.6,5.68,5.72,5.78,5.82,5.88,5.92,5.98,6.02,5.5,5.6,6.87,6.88,6.92,6.85,6.95];
const dirMoreDegrees6 = [8,20,30,35,30,38,38,42,28,50,55,50,40,52,40,35,45,25,20,8,170,165,182,172,178,172,160,150,148,155,155,185,190,190,180,155,150,148,185,172,200,200,198,185,175,195,175,172,185,170,162,160,165,158,188,200,330,340,325,320,350,335,315,318,305,295,300,310,355,353,350,355,352,355,358,200,185,170,160,160,150,155,170,152,160,180,172,170,175,180,182,185,183,190,188,185,195,190,200,205,198,215,208,178,178,175,195,190,165,205];
const dirMoreTimes8 = [1.82,1.88,1.92,1.78,1.82,1.88,1.92,1.78,1.75,1.82,1.9,2.88,2.92,2.98,3.02,3.08,3.12,2.95,3,2.88,3.68,3.72,3.78,3.82,3.72,3.78,3.88,3.68,3.82,3.7,3.78,.35,.42,.48,.38,.28,4.98,5.08,4.92,5.12,5,5.42,5.5,5.65,5.72,5.82,5.88,5.98,5.75,4.18,4.22,4.28];
const dirMoreDegrees8 = [178,178,165,172,165,160,175,165,178,185,180,188,190,185,188,180,170,170,162,170,325,318,325,320,305,310,305,335,335,300,298,350,352,352,358,348,162,160,175,170,150,188,192,195,185,190,200,205,197,355,340,342];
const dirMoreTimes10 = [.05,.08,.12,.28,.32,.38,.4,.02,.33,.42,3.62,3.78,4.95,5,5.02,5.6,3];
const dirMoreDegrees10 = [315,322,325,352,350,352,355,305,358,348,352,322,175,168,165,183,176];
const dirMoreTimes12 = [.03,.08,.12,.18,.15,.05,3.62,3.72,3.78,3.9];
const dirMoreDegrees12 = [315,328,330,340,325,318,345,330,330,328];
const speedClassIndexes = [0,1,2,3,4,5,6,7];
const dirTimesByClass = [dirTimes0,dirTimes2,dirTimes4.concat(dirMoreTimes4),dirTimes6.concat(dirMoreTimes6),dirTimes8.concat(dirMoreTimes8),dirTimes10.concat(dirMoreTimes10),dirTimes12.concat(dirMoreTimes12),dirTimes14];
const dirDegreesByClass = [dirDegrees0,dirDegrees2,dirDegrees4.concat(dirMoreDegrees4),dirDegrees6.concat(dirMoreDegrees6),dirDegrees8.concat(dirMoreDegrees8),dirDegrees10.concat(dirMoreDegrees10),dirDegrees12.concat(dirMoreDegrees12),dirDegrees14];

/* ---------- style ---------- */
const speedColors = ["#b3e2f9","#7eb9e5","#4b93c8","#49a86e","#7fc24f","#e7e258","#f9a746","#f06529","#dd3328","#b8191f","#911515"];

/* ---------- axis functions ---------- */
const leftX = t => 102.5 + t * 46.786;
const rightX = t => 614.5 + t * 46.786;
const tempY = f => 89.5 + (80 - f) * 3.885;
const solarY = w => 399.5 - w * 0.3625;
const windY = v => 399.5 - v * 11.16;
const pressureY = p => 388 - (p - 1005) * 11.3;
const rhY = r => 860.5 - r * 3.28;
const rainY = r => 860.5 - r * 3048;
const dirY = d => 860.2 - d * 0.9108;

/* ---------- drawing helpers ---------- */
const NS = 'http://www.w3.org/2000/svg';
function addLine(g, x1, y1, x2, y2, name, color, width) {
  const el = document.createElementNS(NS, 'line');
  el.setAttribute('x1', x1);
  el.setAttribute('y1', y1);
  el.setAttribute('x2', x2);
  el.setAttribute('y2', y2);
  el.setAttribute('stroke', color || '#000');
  el.setAttribute('stroke-width', width || 1.1);
  
  
  g.appendChild(el);
}
function addLabel(g, x, y, str, anchor, name) {
  const el = document.createElementNS(NS, 'text');
  el.setAttribute('x', x);
  el.setAttribute('y', y);
  el.setAttribute('text-anchor', anchor);
  el.setAttribute('font-size', '16');
  el.textContent = str;
  
  
  g.appendChild(el);
  el.setAttribute('textLength', (el.getComputedTextLength() * 0.89).toFixed(1));
  el.setAttribute('lengthAdjust', 'spacingAndGlyphs');
}
function addPolyline(g, xs, ys, name, color, width, fill) {
  const el = document.createElementNS(NS, 'polyline');
  el.setAttribute('points', xs.map((x, i) => x.toFixed(2) + ',' + ys[i].toFixed(2)).join(' '));
  el.setAttribute('fill', fill || 'none');
  el.setAttribute('stroke', color);
  el.setAttribute('stroke-width', width);
  el.setAttribute('stroke-linejoin', 'round');
  el.setAttribute('stroke-linecap', 'round');
  
  
  g.appendChild(el);
  return el;
}
function addDot(g, x, y, r, color, name) {
  const el = document.createElementNS(NS, 'circle');
  el.setAttribute('cx', x.toFixed(2));
  el.setAttribute('cy', y.toFixed(2));
  el.setAttribute('r', r);
  el.setAttribute('fill', color);
  
  
  g.appendChild(el);
}
function drawXAxis(g, xFn, top, bottom, baseline) {
  dayTicks.forEach((d, i) => {
    addLine(g, xFn(d), top - 8, xFn(d), top, 'x-tick-top');
    addLine(g, xFn(d), bottom, xFn(d), bottom + 8, 'x-tick-bottom');
    addLabel(g, xFn(d), baseline, dayLabels[i], 'middle', 'x-tick-label');
  });
}
function drawYGrid(g, yFn, majors, left, right) {
  majors.forEach(v => addLine(g, left - 8, yFn(v), right, yFn(v), 'y-grid-line'));
}
function drawLeftAxis(g, yFn, majors, labels, minors, left, labelX) {
  minors.forEach(v => addLine(g, left - 3, yFn(v), left, yFn(v), 'y-minor-tick', '#555'));
  majors.forEach((v, i) => addLabel(g, labelX, yFn(v) + 5.5, labels[i], 'end', 'y-tick-label'));
}
function drawRightAxis(g, yFn, majors, labels, minors, right, labelX) {
  minors.forEach(v => addLine(g, right, yFn(v), right + 5, yFn(v), 'right-minor-tick', '#777'));
  majors.forEach((v, i) => {
    addLine(g, right, yFn(v), right + 8, yFn(v), 'right-major-tick');
    addLabel(g, labelX, yFn(v) + 5.5, labels[i], 'start', 'right-tick-label');
  });
}
function drawFrame(g, left, right, top, bottom) {
  addLine(g, left, top, right, top, 'frame-top');
  addLine(g, left, bottom, right, bottom, 'frame-bottom');
  addLine(g, left, top, left, bottom, 'frame-left');
  addLine(g, right, top, right, bottom, 'frame-right');
}

/* ---------- temperature chart ---------- */
(function () {
  const g = document.getElementById('temp-chart');
  drawYGrid(g, tempY, tempMajorTicks, 102.5, 430);
  const dew = addPolyline(g, dewTimes.map(leftX), dewValues.map(tempY), 'dewpoint-line', '#47b449', 3.2);
  dew.setAttribute('stroke-dasharray', '0.01 3');
  addPolyline(g, tempTimes.map(leftX), temp9mValues.map(tempY), 'temperature-9m-line', '#f47f2f', 5.4);
  addPolyline(g, tempTimes.map(leftX), temp2mValues.map(tempY), 'temperature-2m-line', '#d21f26', 5.4);
  addPolyline(g, solarTimes.map(leftX), solarValues.map(solarY), 'solar-insolation-line', '#ffe052', 0.9);
  drawFrame(g, 102.5, 430, 71.5, 399.5);
  drawXAxis(g, leftX, 71.5, 399.5, 429.5);
  drawLeftAxis(g, tempY, tempMajorTicks, tempTickLabels, tempMinorTicks, 102.5, 84);
  drawRightAxis(g, solarY, solarMajorTicks, solarTickLabels, solarMinorTicks, 430, 448.5);
})();

/* ---------- wind chart ---------- */
(function () {
  const g = document.getElementById('wind-chart');
  drawYGrid(g, windY, windMajorTicks, 614.5, 942);
  const bandXs = windTimes.map(rightX).concat(windTimes.map(rightX).reverse());
  const bandYs = windHighValues.map(windY).concat(windLowValues.map(windY).reverse());
  addPolyline(g, bandXs, bandYs, 'sonic-wind-band', '#4f97d0', 2.2, '#4f97d0');
  gustTimes.forEach((t, i) => {
    (gustColumns[i] || []).forEach(v => addDot(g, rightX(t), windY(v), 3.3, '#000', 'gust-point'));
  });
  gustTimesB.forEach((t, i) => {
    (gustColumnsB[i] || []).forEach(v => addDot(g, rightX(t), windY(v), 3.3, '#000', 'gust-point'));
  });
  addPolyline(g, pressureTimes.map(rightX), pressureValues.map(pressureY), 'station-pressure-line', '#9a1c20', 4.8);
  drawFrame(g, 614.5, 942, 71.5, 399.5);
  drawXAxis(g, rightX, 71.5, 399.5, 429.5);
  drawLeftAxis(g, windY, windMajorTicks, windTickLabels, windMinorTicks, 614.5, 595.5);
  drawRightAxis(g, pressureY, pressureMajorTicks, pressureTickLabels, pressureMinorTicks, 942, 960.5);
})();

/* ---------- humidity chart ---------- */
(function () {
  const g = document.getElementById('rh-chart');
  drawYGrid(g, rhY, rhMajorTicks, 102.5, 430);
  addPolyline(g, rhTimes.map(leftX), rhValues.map(rhY), 'relative-humidity-line', '#93cc52', 5.6);
  let start = 0;
  for (let i = 1; i <= rainTimes.length; i++) {
    if (i === rainTimes.length || rainValues[i] !== rainValues[start]) {
      addPolyline(g, rainTimes.slice(start, i).map(leftX), rainValues.slice(start, i).map(rainY), 'precipitation-line', '#46b249', 12.6);
      start = i;
    }
  }
  drawFrame(g, 102.5, 430, 532.5, 860.5);
  drawXAxis(g, leftX, 532.5, 860.5, 891);
  drawLeftAxis(g, rhY, rhMajorTicks, rhTickLabels, rhMinorTicks, 102.5, 84);
  drawRightAxis(g, rainY, rainMajorTicks, rainTickLabels, rainMinorTicks, 430, 448.5);
})();

/* ---------- wind direction chart ---------- */
(function () {
  const g = document.getElementById('dir-chart');
  speedClassIndexes.forEach(c => {
    const times = dirTimesByClass[c];
    const degrees = dirDegreesByClass[c];
    times.forEach((t, i) => {
      if (degrees[i] !== undefined) addDot(g, rightX(t), dirY(degrees[i]), 3.2, speedColors[c], 'direction-point');
    });
  });
  directionTicks.forEach((d, i) => {
    addLine(g, 606, dirY(d), 950.7, dirY(d), 'direction-grid-line');
    addLabel(g, 596, dirY(d) + 5.8, directionLabels[i], 'end', 'direction-tick-label');
  });
  addLine(g, 614.5, 532.5, 614.5, 860.2, 'frame-left');
  addLine(g, 942, 532.5, 942, 860.2, 'frame-right');
  drawXAxis(g, rightX, 532.5, 860.2, 891);
  const legend = document.getElementById('dir-legend');
  speedLegendLabels.forEach((label, i) => {
    const boxTop = 798.3 - i * 20.42;
    const box = document.createElementNS(NS, 'rect');
    box.setAttribute('x', 953);
    box.setAttribute('y', boxTop.toFixed(2));
    box.setAttribute('width', 30);
    box.setAttribute('height', 20.6);
    box.setAttribute('fill', speedColors[i]);
    
    
    legend.appendChild(box);
    addLabel(legend, 1007, boxTop + 15.7, label, 'middle', 'speed-legend-label');
  });
})();
</script>
</body>
</html>
